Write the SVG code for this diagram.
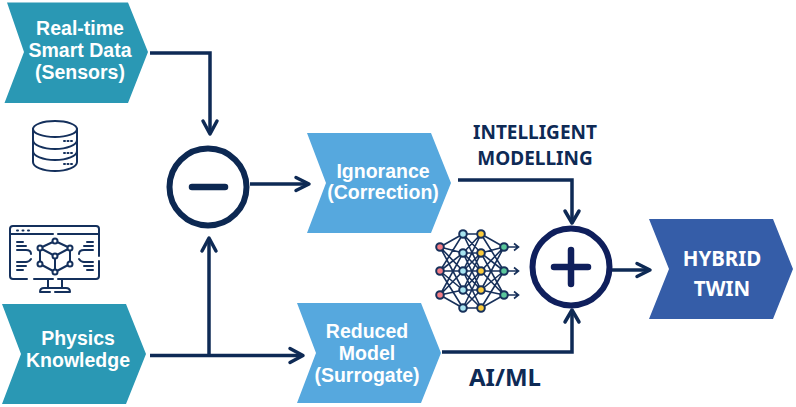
<svg xmlns="http://www.w3.org/2000/svg" width="796" height="407" viewBox="0 0 796 407">
<style>
.teal{fill:#2A98B4}.sky{fill:#56A8DE}.blue{fill:#355DA8}
.t{font-family:"Liberation Sans",Arial,sans-serif;font-weight:700;font-size:19.5px;fill:#fff;text-anchor:middle}
.h{font-family:"Noto Sans","Open Sans",sans-serif;font-weight:700;text-anchor:middle}
.c{fill:none;stroke:#0E2A55;stroke-width:3.5;stroke-linejoin:miter}
.a{fill:none;stroke:#0E2A55;stroke-width:3.5;stroke-linecap:round;stroke-linejoin:round}
.i{fill:none;stroke:#14305C;stroke-width:2;stroke-linecap:round;stroke-linejoin:round}
.n{stroke:#17305A;stroke-width:2}
.l{stroke:#17305A;stroke-width:1.6;fill:none}
</style>
<rect width="796" height="407" fill="#fff"/>
<g id="connectors">
<path class="c" d="M150 53H210V134"/><path class="a" d="M203 121L210 134L217 121"/>
<path class="c" d="M150 355.5H302"/><path class="a" d="M290 348.500L303 355.500L290 362.500"/>
<path class="c" d="M209 355.500V239"/><path class="a" d="M202 251L209 238L216 251"/>
<path class="c" d="M250 184H308"/><path class="a" d="M296 177.500L309 184L296 190.500"/>
<path class="c" d="M458 180H572V222"/><path class="a" d="M565 211L572 223L579 211"/>
<path class="c" d="M442 352H572V312"/><path class="a" d="M565 322L572 310L579 322"/>
<path class="c" d="M612 270H648"/><path class="a" d="M637 263.500L650 270L637 276.500"/>
</g>
<g id="node-realtime"><polygon class="teal" points="7,2.500 128,2.500 148,52 128,103 4.500,103 24,52"/>
<text class="t" x="80" y="35">Real-time</text><text class="t" x="80" y="57">Smart Data</text><text class="t" x="80" y="79">(Sensors)</text></g>
<g id="node-physics"><polygon class="teal" points="2,304 126,304 146,354 126,404 2,404 21,354"/>
<text class="t" x="78" y="345">Physics</text><text class="t" x="78" y="367">Knowledge</text></g>
<g id="node-ignorance"><polygon class="sky" points="307,133 431,133 451,183 431,233 307,233 326,183"/>
<text class="t" x="383" y="178">Ignorance</text><text class="t" x="383" y="199">(Correction)</text></g>
<g id="node-reduced"><polygon class="sky" points="297,303 421,303 441,353 421,403 297,403 316,353"/>
<text class="t" x="367" y="338">Reduced</text><text class="t" x="367" y="360">Model</text><text class="t" x="367" y="382">(Surrogate)</text></g>
<g id="node-hybrid"><polygon class="blue" points="649,219 773,219 793,269 773,319 649,319 669,269"/>
<text class="h" font-size="20.500" fill="#fff" x="722" y="266">HYBRID</text><text class="h" font-size="20.500" fill="#fff" x="722" y="296">TWIN</text></g>
<g id="node-minus"><circle cx="208" cy="187" r="38.500" fill="#fff" stroke="#0C2852" stroke-width="6"/><path d="M192 187H225" stroke="#0C2852" stroke-width="6.500" stroke-linecap="round"/></g>
<g id="node-plus"><circle cx="571" cy="267" r="38.500" fill="#fff" stroke="#0F1F5C" stroke-width="6"/><path d="M554 267H588M571 250V284" stroke="#0F1F5C" stroke-width="6.500" stroke-linecap="round"/></g>
<g id="label-intelligent"><text class="h" font-size="19" fill="#0E2A55" x="535" y="139">INTELLIGENT</text><text class="h" font-size="19" fill="#0E2A55" x="535" y="165">MODELLING</text></g>
<g id="label-aiml"><text class="h" font-size="24" fill="#0E2A55" x="505" y="386">AI/ML</text></g>
<g id="icon-database" class="i">
<ellipse cx="55" cy="129" rx="22" ry="8"/>
<path d="M33 129V162C33 167 43 171 55 171S77 167 77 162V129"/>
<path d="M33 140C33 145 43 149 55 149S77 145 77 140M33 151C33 156 43 160 55 160S77 156 77 151"/>
<path d="M64 141H72M64 153H72M64 164H72" stroke-dasharray="1 2.500"/>
</g>
<g id="icon-monitor" class="i">
<path d="M53 279H34M27 279H13Q10 279 10 276V229Q10 226 13 226H96Q99 226 99 229V256M99 261V276Q99 279 96 279H58"/>
<path d="M10 234H53M58 234H99"/>
<path d="M17 230.500H18M22.500 230.500H23.500M28 230.500H29"/>
<path d="M48 279V288M62 279V288M44 292H40Q40 288 44 288H66Q70 288 70 292H55M44 292H50"/>
<path d="M55 241L70 248V264L55 272L40 264V248ZM40 248L55 256L70 248M55 256V272"/>
<g fill="#fff"><circle cx="55" cy="241" r="2.500"/><circle cx="70" cy="248" r="2.500"/><circle cx="70" cy="264" r="2.500"/><circle cx="55" cy="272" r="2.500"/><circle cx="40" cy="264" r="2.500"/><circle cx="40" cy="248" r="2.500"/><circle cx="55" cy="256" r="2.500"/></g>
<path d="M17 242H23M17 246H26M17 250H26Q31 250 31 254M17 270H23M17 266H26M17 262H26Q29 262 31 259"/>
<path d="M93 242H87M93 246H84M93 250H84Q79 250 79 254M93 270H87M93 266H84M93 262H84Q81 262 79 259"/>
</g>
<g id="icon-network">
<g class="l">
<path d="M440 247L463 234M440 247L463 253M440 247L463 271M440 247L463 290M440 271L463 234M440 271L463 253M440 271H463M440 271L463 290M440 271L463 308M440 295L463 253M440 295L463 271M440 295L463 290M440 295L463 308"/>
<path d="M463 234H481M463 234L481 253M463 234L481 271M463 253L481 234M463 253H481M463 253L481 271M463 253L481 290M463 271L481 234M463 271L481 253M463 271H481M463 271L481 290M463 271L481 308M463 290L481 253M463 290L481 271M463 290H481M463 290L481 308M463 308L481 271M463 308L481 290M463 308H481"/>
<path d="M481 234L504 247M481 253L504 247M481 271L504 247M481 290L504 247M481 234L504 271M481 253L504 271M481 271H504M481 290L504 271M481 308L504 271M481 253L504 295M481 271L504 295M481 290L504 295M481 308L504 295"/>
<path d="M504 247H518M514 243.500L518.500 247L514 250.500M504 271H518M514 267.500L518.500 271L514 274.500M504 295H518M514 291.500L518.500 295L514 298.500"/>
</g>
<g class="n" fill="#F27C85"><circle cx="440" cy="247" r="3.800"/><circle cx="440" cy="271" r="3.800"/><circle cx="440" cy="295" r="3.800"/></g>
<g class="n" fill="#A8E4F0"><circle cx="463" cy="234" r="3.800"/><circle cx="463" cy="253" r="3.800"/><circle cx="463" cy="271" r="3.800"/><circle cx="463" cy="290" r="3.800"/><circle cx="463" cy="308" r="3.800"/></g>
<g class="n" fill="#FBCB3C"><circle cx="481" cy="234" r="3.800"/><circle cx="481" cy="253" r="3.800"/><circle cx="481" cy="271" r="3.800"/><circle cx="481" cy="290" r="3.800"/><circle cx="481" cy="308" r="3.800"/></g>
<g class="n" fill="#5BC79B"><circle cx="504" cy="247" r="3.800"/><circle cx="504" cy="271" r="3.800"/><circle cx="504" cy="295" r="3.800"/></g>
</g>
</svg>
